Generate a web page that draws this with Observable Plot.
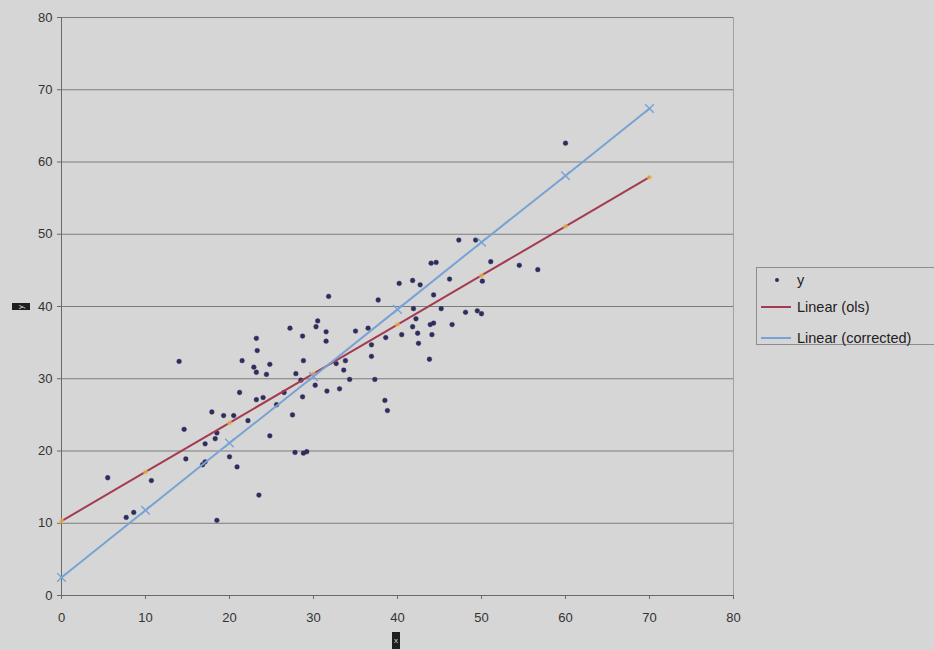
<!DOCTYPE html>
<html>
<head>
<meta charset="utf-8">
<script src="https://cdn.jsdelivr.net/npm/d3@7"></script>
<script src="https://cdn.jsdelivr.net/npm/@observablehq/plot@0.6"></script>
<style>
  html, body { margin: 0; padding: 0; background: #d6d6d6; overflow: hidden; }
  #wrap { position: relative; width: 934px; height: 650px; font-family: "Liberation Sans", Arial, sans-serif; }
  #wrap svg { position: absolute; left: 0; top: 0; }
  .axis-tag { position: absolute; background: #1f1f1f; color: #d8d8d8; font-size: 8px; line-height: 1; display: flex; align-items: center; justify-content: center; }
  #legend { position: absolute; left: 756px; top: 267px; width: 200px; height: 78px; border: 1px solid #8c8c8c; box-sizing: border-box; }
  .row { position: absolute; left: 0; height: 20px; display: flex; align-items: center; font-size: 14.5px; color: #222; white-space: nowrap; }
  .sw { width: 30px; height: 20px; position: relative; margin-left: 4px; margin-right: 6px; }
</style>
</head>
<body>
<div id="wrap"></div>
<script>
// Observed sample (x, y)
const xObs = [23.2, 28.7, 31.5, 31.5, 14.0, 21.5, 23.3, 22.9, 23.2, 24.8,
              24.4, 28.8, 27.9, 30.2, 31.6, 21.2, 23.2, 24.0, 25.6, 28.7,
              17.9, 19.3, 20.5, 22.2, 27.5, 14.6, 18.5, 18.3, 17.1, 24.8,
              14.8, 16.8, 17.1, 20.0, 20.9, 27.8, 28.8, 29.2, 5.5, 10.7,
              23.5, 7.7, 8.6, 18.5, 60.0, 47.3, 49.3, 44.0, 44.6, 51.1,
              54.5, 56.7, 40.2, 41.8, 42.7, 46.2, 50.1, 31.8, 37.7, 44.3,
              41.9, 45.2, 48.1, 49.5, 50.0, 27.2, 30.3, 30.5, 35.0, 36.5,
              41.8, 42.2, 43.9, 44.3, 46.5, 40.5, 42.4, 44.1, 38.6, 42.5,
              36.9, 32.7, 33.8, 36.9, 43.8, 33.6, 34.3, 37.3, 33.1, 38.5,
              38.8, 26.5, 28.5];
const yObs = [35.6, 35.9, 36.5, 35.2, 32.4, 32.5, 33.9, 31.6, 30.9, 32.0,
              30.6, 32.5, 30.7, 29.1, 28.3, 28.1, 27.1, 27.4, 26.4, 27.5,
              25.4, 24.9, 24.9, 24.2, 25.0, 23.0, 22.5, 21.7, 21.0, 22.1,
              18.9, 18.1, 18.5, 19.2, 17.8, 19.8, 19.7, 19.9, 16.3, 15.9,
              13.9, 10.8, 11.5, 10.4, 62.6, 49.2, 49.2, 46.0, 46.1, 46.2,
              45.7, 45.1, 43.2, 43.6, 43.0, 43.8, 43.5, 41.4, 40.9, 41.6,
              39.7, 39.7, 39.2, 39.4, 39.0, 37.0, 37.2, 38.0, 36.6, 37.0,
              37.2, 38.3, 37.5, 37.7, 37.5, 36.1, 36.3, 36.1, 35.7, 34.9,
              34.7, 32.1, 32.5, 33.1, 32.7, 31.2, 29.9, 29.9, 28.6, 27.0,
              25.6, 28.1, 29.8];

// Fitted lines, evaluated at the marker positions
const fitX       = [0, 10, 20, 30, 40, 50, 60, 70];
const olsY       = [10.3, 17.1, 23.9, 30.7, 37.5, 44.3, 51.1, 57.9];
const correctedY = [2.5, 11.8, 21.1, 30.3, 39.6, 48.9, 58.1, 67.4];

// Axis ticks
const xTicks = [0, 10, 20, 30, 40, 50, 60, 70, 80];
const yTicks = [0, 10, 20, 30, 40, 50, 60, 70, 80];

// Legend entries
const legendLabels = ["y", "Linear (ols)", "Linear (corrected)"];

const points = xObs.map((x, i) => ({x, y: yObs[i]}));
const fit = fitX.map((x, i) => ({x, ols: olsY[i], corrected: correctedY[i]}));

const navy = "#2e2e5e";
const red = "#a33c50";
const blue = "#78a2d4";
const orange = "#f0b850";

const chart = Plot.plot({
  width: 934,
  height: 650,
  marginLeft: 61,
  marginRight: 201,
  marginTop: 17,
  marginBottom: 55,
  x: {domain: [0, 80]},
  y: {domain: [0, 80]},
  style: {background: "transparent", fontFamily: "'Liberation Sans', Arial, sans-serif", fontSize: "13px", color: "#333"},
  marks: [
    Plot.ruleY(yTicks.filter(d => d > 0), {stroke: "#7c7c7c", strokeWidth: 1}),
    Plot.ruleX([80], {stroke: "#a2a2a2", strokeWidth: 1}),
    Plot.axisY({ticks: yTicks, tickSize: 4, tickPadding: 5, label: null, stroke: "#6a6a6a", fill: "#333"}),
    Plot.axisX({ticks: xTicks, tickSize: 4, tickPadding: 13, label: null, stroke: "#6a6a6a", fill: "#333"}),
    Plot.ruleX([0], {stroke: "#6a6a6a", strokeWidth: 1}),
    Plot.ruleY([0], {stroke: "#6a6a6a", strokeWidth: 1}),
    Plot.dot(points, {x: "x", y: "y", r: 2.4, fill: navy, stroke: navy, strokeOpacity: 0.35, strokeWidth: 1}),
    Plot.line(fit, {x: "x", y: "ols", stroke: red, strokeWidth: 2}),
    Plot.dot(fit, {x: "x", y: "ols", r: 2.5, fill: orange, fillOpacity: 0.7}),
    Plot.line(fit, {x: "x", y: "corrected", stroke: blue, strokeWidth: 2}),
    Plot.dot(fit, {x: "x", y: "corrected", symbol: "times", r: 4, stroke: blue, strokeWidth: 1.4})
  ]
});

const wrap = document.getElementById("wrap");
wrap.appendChild(chart);

// Axis titles
const yTag = document.createElement("div");
yTag.className = "axis-tag";
Object.assign(yTag.style, {left: "12px", top: "303px", width: "18px", height: "7px"});
yTag.innerHTML = '<span style="display:inline-block;transform:rotate(-90deg)">y</span>';
wrap.appendChild(yTag);

const xTag = document.createElement("div");
xTag.className = "axis-tag";
Object.assign(xTag.style, {left: "392px", top: "632px", width: "8px", height: "17px"});
xTag.textContent = "x";
wrap.appendChild(xTag);

// Legend
const legend = document.createElement("div");
legend.id = "legend";
const rowTops = [2, 29, 60];
legendLabels.forEach((label, i) => {
  const row = document.createElement("div");
  row.className = "row";
  row.style.top = rowTops[i] + "px";
  const sw = document.createElement("div");
  sw.className = "sw";
  if (i === 0) {
    sw.innerHTML = `<span style="position:absolute;left:14px;top:8px;width:4px;height:4px;border-radius:50%;background:${navy}"></span>`;
  } else {
    const c = i === 1 ? red : blue;
    sw.innerHTML = `<span style="position:absolute;left:0;top:9px;width:30px;height:2px;background:${c}"></span>`;
  }
  row.appendChild(sw);
  const t = document.createElement("span");
  t.textContent = label;
  row.appendChild(t);
  legend.appendChild(row);
});
wrap.appendChild(legend);
</script>
</body>
</html>
